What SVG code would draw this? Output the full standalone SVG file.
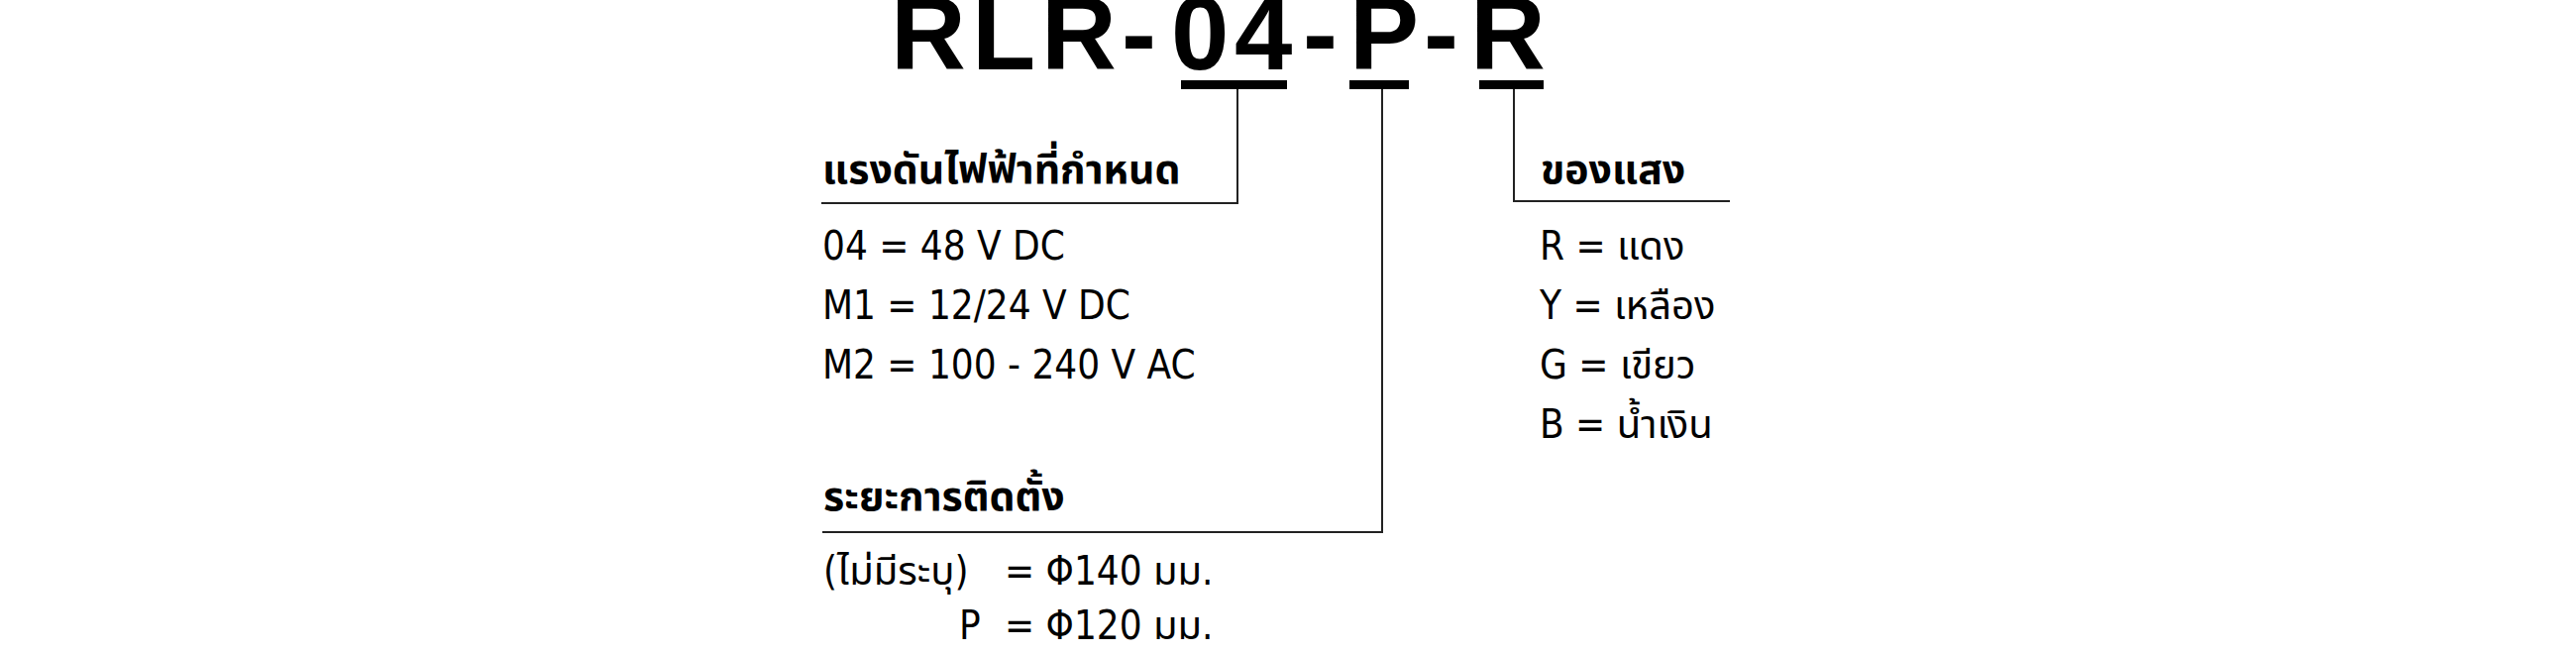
<svg xmlns="http://www.w3.org/2000/svg" width="2600" height="660" viewBox="0 0 2600 660">
<style>
.title{font-family:"Liberation Sans",Arial,sans-serif;font-weight:bold;font-size:105px;fill:#000}
.h{font-family:Tahoma,"DejaVu Sans Condensed","Noto Sans Thai","Noto Sans",sans-serif;font-weight:bold;font-size:41px;fill:#000}
.t{font-family:Tahoma,"DejaVu Sans Condensed","Noto Sans Thai","Noto Sans",sans-serif;font-size:40px;fill:#000}
.bar{fill:#000}
.ln{fill:none;stroke:#222;stroke-width:2}
</style>
<rect width="2600" height="660" fill="#fff"/>
<g id="title">
<text class="title" x="899 981 1051 1132 1182 1246 1315 1362 1437 1484" y="70">RLR-04-P-R</text>
<rect class="bar" x="1192" y="81" width="107" height="9"/>
<rect class="bar" x="1362" y="81" width="60" height="9"/>
<rect class="bar" x="1493" y="81" width="65" height="9"/>
</g>
<g id="connectors">
<path class="ln" d="M1249 90 V205 H829"/>
<path class="ln" d="M1395 90 V537 H830"/>
<path class="ln" d="M1528 90 V203 H1746"/>
</g>
<g id="voltage">
<text class="h" x="830" y="185">แรงดันไฟฟ้าที่กำหนด</text>
<text class="t" x="830" y="262">04 = 48 V DC</text>
<text class="t" x="830" y="322">M1 = 12/24 V DC</text>
<text class="t" x="830" y="382">M2 = 100 - 240 V AC</text>
</g>
<g id="distance">
<text class="h" x="831" y="515">ระยะการติดตั้ง</text>
<text class="t" x="831" y="590">(ไม่มีระบุ)</text>
<text class="t" x="1014" y="590">= Φ140 มม.</text>
<text class="t" x="968" y="645">P</text>
<text class="t" x="1014" y="645">= Φ120 มม.</text>
</g>
<g id="color">
<text class="h" x="1555" y="185">ของแสง</text>
<text class="t" x="1554" y="262">R = แดง</text>
<text class="t" x="1554" y="322">Y = เหลือง</text>
<text class="t" x="1554" y="382">G = เขียว</text>
<text class="t" x="1554" y="442">B = น้ำเงิน</text>
</g>
</svg>
